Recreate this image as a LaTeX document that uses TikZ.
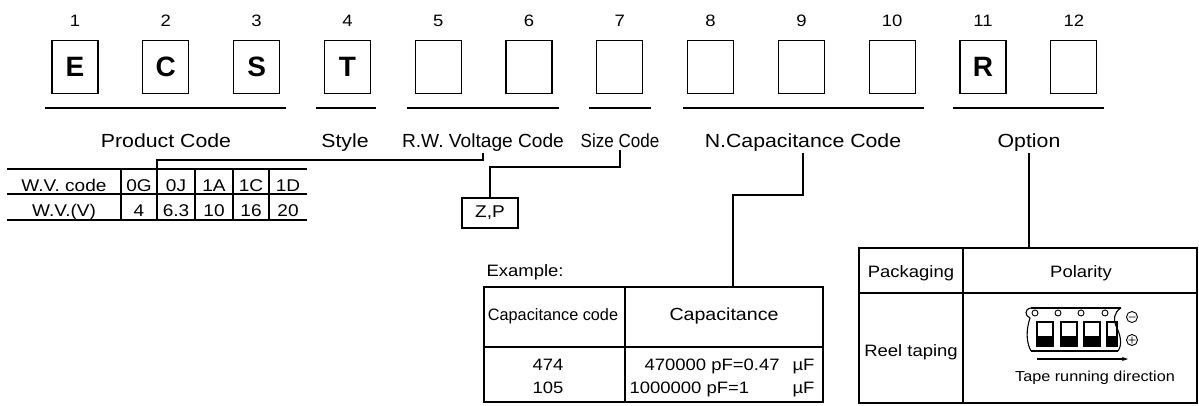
\documentclass[tikz,border=0pt]{standalone}
\usepackage{fontspec}
\usepackage{graphicx}
\setmainfont{Liberation Sans}[FakeStretch=1.12]
\newfontfamily\letterfont{Liberation Sans}
\usetikzlibrary{arrows.meta}
\begin{document}
\begin{tikzpicture}[x=1pt, y=-1pt, line width=1.1pt,
  codebox/.style={draw, minimum width=46, minimum height=53, inner sep=0pt,
    font=\letterfont\bfseries\fontsize{28}{30}\selectfont},
  numlbl/.style={anchor=base, inner sep=2pt, font=\fontsize{16.5}{19}\selectfont},
  lbl/.style={anchor=base, inner sep=2pt, font=\fontsize{19}{22}\selectfont},
  cell/.style={anchor=base, inner sep=1pt, font=\fontsize{16.5}{19}\selectfont}]
\useasboundingbox (0,0) rectangle (1199,405);
% code boxes
\foreach \i/\l in {1/E,2/C,3/S,4/T,5/{},6/{},7/{},8/{},9/{},10/{},11/R,12/{}} {
  \node[codebox] (box\i) at ({75+90.8*(\i-1)},67) {\l};
  \node[numlbl] (num\i) at ({75+90.8*(\i-1)},26.5) {\i};
}
% group lines
\draw (45,108) -- (286,108);
\draw (316,108) -- (376,108);
\draw (407,108) -- (559,108);
\draw (589,108) -- (651,108);
\draw (683,108) -- (924,108);
\draw (953,108) -- (1104,108);
\node[lbl] (pcode) at (166,147) {Product Code};
\node[lbl] (stylelbl) at (345,147) {Style};
\node[lbl] (rwv) at (483,147) {\scalebox{0.9}[1]{R.W. Voltage Code}};
\node[lbl] (size) at (620,147) {\scalebox{0.8}[1]{Size Code}};
\node[lbl] (ncap) at (803,147) {N.Capacitance Code};
\node[lbl] (opt) at (1029,147) {Option};
% voltage table
\draw (7,169) -- (307,169) (7,194) -- (307,194) (7,220) -- (307,220);
\foreach \x in {121,157,195,233,269} \draw (\x,169) -- (\x,220);
\foreach \x/\a/\b in {64/W.V. code/W.V.(V),139/0G/4,176/0J/6.3,214/1A/10,251/1C/16,288/1D/20} {
  \node[cell, font=\fontsize{17}{19}\selectfont] (wva\x) at (\x,191) {\a};
  \node[cell, font=\fontsize{17}{19}\selectfont] (wvb\x) at (\x,216.5) {\b};
}
\coordinate (wvtop) at (157,169);
\draw (rwv.south) -- (rwv.south |- 0,160) -| (wvtop);
% size code
\node[draw, minimum width=56, minimum height=30, inner sep=0pt,
  font=\fontsize{17}{19}\selectfont] (zp) at (490,213) {Z,P};
\draw (size.south) -- (size.south |- 0,167) -| (zp.north);
% capacitance example
\node[cell, anchor=base west] (example) at (485,276) {Example:};
\draw (484,287) rectangle (823,402);
\draw (625,287) -- (625,402);
\draw (484,347) -- (823,347);
\node[cell] (caphd) at (553,320) {\scalebox{0.88}[1]{Capacitance code}};
\node[cell, font=\fontsize{17.5}{20}\selectfont] (capvhd) at (724,320) {Capacitance};
\node[cell] (code1) at (548,370) {474};
\node[cell] (code2) at (548,393) {105};
\node[cell, anchor=base west] (cap1) at (643,370) {470000 pF=0.47};
\node[cell, anchor=base east] (unit1) at (816,370) {µF};
\node[cell, anchor=base west] (cap2) at (628,393) {1000000 pF=1};
\node[cell, anchor=base east] (unit2) at (816,393) {µF};
\coordinate (captop) at (733,287);
\draw (ncap.south) -- (ncap.south |- 0,195) -| (captop);
% option table
\draw (859,248) rectangle (1197,403);
\draw (963,248) -- (963,403);
\draw (859,293) -- (1197,293);
\coordinate (opttop) at (1029,248);
\draw (opt.south) -- (opttop);
\node[cell] (pack) at (911,277) {Packaging};
\node[cell] (polar) at (1081,277) {Polarity};
\node[cell] (reel) at (911,356) {Reel taping};
\node[cell, font=\fontsize{14.5}{17}\selectfont] (tapedir) at (1095,381) {Tape running direction};
% tape
\draw (1031,308) -- (1121,308);
\draw[line width=1.8pt] (1031,351) -- (1118,351);
\draw (1031,308) .. controls (1024,309) and (1025,316) .. (1030,318)
  .. controls (1026,330) and (1026,342) .. (1031,351);
\draw (1121,308) .. controls (1114,312) and (1113,320) .. (1116,326)
  .. controls (1120,334) and (1123,344) .. (1118,351);
\foreach \x in {1035,1058,1081,1105} \draw[line width=0.9pt] (\x,313) circle (3);
\foreach \x/\w in {1037/16,1061/16,1084/16,1107/10} {
  \draw (\x,322) rectangle ++(\w,24);
  \fill (\x,336) rectangle ++(\w,10);
}
\draw[line width=0.9pt] (1132,317) circle (5.5) (1128.5,317) -- (1135.5,317);
\draw[line width=0.9pt] (1132,340) circle (5.5) (1128.5,340) -- (1135.5,340)
  (1132,336.5) -- (1132,343.5);
\draw[-{Stealth[length=6pt,width=4pt]}] (1037,359) -- (1128,359);
\end{tikzpicture}
\end{document}
